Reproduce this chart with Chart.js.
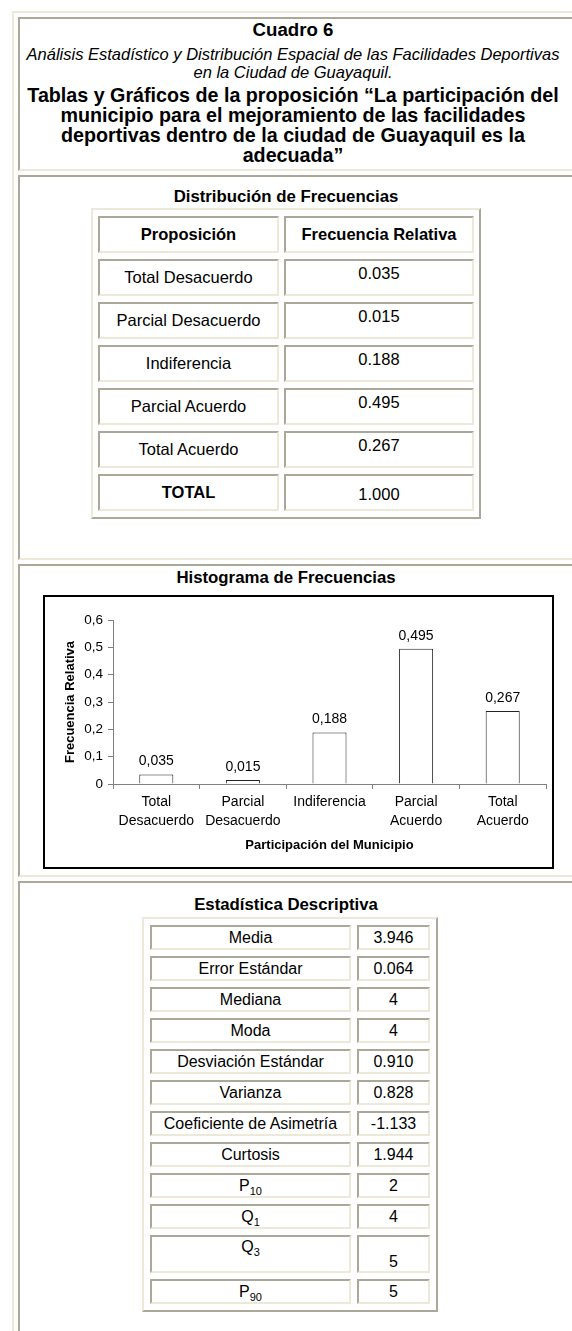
<!DOCTYPE html>
<html lang="es">
<head>
<meta charset="utf-8">
<title>Cuadro 6</title>
<script src="https://cdn.jsdelivr.net/npm/chart.js@4.4.1/dist/chart.umd.min.js"></script>
<style>
html, body { margin: 0; padding: 0; background: #fff; overflow: hidden; width: 572px; height: 1331px; }
body { font-family: "Liberation Sans", Arial, sans-serif; color: #000; position: relative; }
#marco { position: absolute; left: 12px; top: 11px; border-collapse: separate; border-spacing: 4px;
  border: 2px solid; border-color: #ECE9D8 #ACA899 #ACA899 #ECE9D8; }
#marco > tbody > tr > td { width: 558px; padding: 0; vertical-align: top;
  border: 2px solid; border-color: #ACA899 #ECE9D8 #ECE9D8 #ACA899; }
.sec { display: flow-root; overflow: hidden; width: 558px; }
.caja { width: 532px; text-align: center; }
.sec1 .caja { width: 546px; white-space: nowrap; }
.sec1 { height: 150px; }
.sec2 { height: 381px; }
.sec3 { height: 309px; }
.sec4 { height: 480px; }
.cuadro { font-weight: bold; font-size: 18.67px; line-height: 21px; }
.sub { font-style: italic; font-size: 16.5px; line-height: 18px; margin-top: 5px; }
.tit { font-weight: bold; font-size: 19.7px; line-height: 20px; margin-top: 4px; }
.enc { font-weight: bold; font-size: 16.8px; line-height: 22px; }
.tabla { margin: 0 auto; table-layout: fixed; border-collapse: separate;
  border: 2px solid; border-color: #ECE9D8 #ACA899 #ACA899 #ECE9D8; font-size: 16.5px; }
.tabla td { padding: 0; text-align: center; vertical-align: middle; line-height: 19px;
  border: 2px solid; border-color: #ACA899 #ECE9D8 #ECE9D8 #ACA899; box-sizing: border-box; }
#dist { width: 390px; border-spacing: 5px 6px; }
#dist tr { height: 37px; }
#dist td.c1 { width: 181px; }
#dist td.val { padding-bottom: 8px; }
#dist td.tot { padding-top: 4px; }
#desc { width: 296px; border-spacing: 6px; margin-top: 1px; font-size: 16px; position: relative; left: 4px; }
#desc tr { height: 25px; }
#desc td.c1 { width: 201px; }
#desc tr.alto { height: 38px; }
#desc tr.alto td.c1 { vertical-align: top; }
#desc tr.alto td.c2 { vertical-align: bottom; }
sub { font-size: 11px; line-height: 0; vertical-align: -4px; }
#marcoGrafico { width: 507px; height: 270px; border: 2px solid #000; margin: 6px 0 0 23px; position: relative; }
</style>
</head>
<body>
<table id="marco">
  <tr><td><div class="sec sec1"><div class="caja">
    <div class="cuadro">Cuadro 6</div>
    <div class="sub">Análisis Estadístico y Distribución Espacial de las Facilidades Deportivas<br>en la Ciudad de Guayaquil.</div>
    <div class="tit">Tablas y Gráficos de la proposición “La participación del<br>municipio para el mejoramiento de las facilidades<br>deportivas dentro de la ciudad de Guayaquil es la<br>adecuada”</div>
  </div></div></td></tr>
  <tr><td><div class="sec sec2"><div class="caja">
    <div class="enc" style="margin-top:9px">Distribución de Frecuencias</div>
    <table class="tabla" id="dist"></table>
  </div></div></td></tr>
  <tr><td><div class="sec sec3"><div class="caja">
    <div class="enc" style="margin-top:1px">Histograma de Frecuencias</div>
    <div id="marcoGrafico"><canvas id="histograma"></canvas></div>
  </div></div></td></tr>
  <tr><td><div class="sec sec4"><div class="caja">
    <div class="enc" style="margin-top:11px">Estadística Descriptiva</div>
    <table class="tabla" id="desc"></table>
  </div></div></td></tr>
</table>
<script>
// Datos del cuadro
const proposiciones = ['Total Desacuerdo', 'Parcial Desacuerdo', 'Indiferencia', 'Parcial Acuerdo', 'Total Acuerdo'];
const frecuencias = [0.035, 0.015, 0.188, 0.495, 0.267];
const totalFrecuencia = 1.000;
const categorias = [['Total', 'Desacuerdo'], ['Parcial', 'Desacuerdo'], 'Indiferencia', ['Parcial', 'Acuerdo'], ['Total', 'Acuerdo']];
const yMin = 0, yMax = 0.6, yPaso = 0.1;
const estadisticos = ['Media', 'Error Estándar', 'Mediana', 'Moda', 'Desviación Estándar', 'Varianza',
  'Coeficiente de Asimetría', 'Curtosis', 'P', 'Q', 'Q', 'P'];
const subindices = ['', '', '', '', '', '', '', '', '10', '1', '3', '90'];
const valoresEst = ['3.946', '0.064', '4', '4', '0.910', '0.828', '-1.133', '1.944', '2', '4', '5', '5'];

// Tabla de distribucion de frecuencias
let html = '<tr><td class="c1"><b>Proposición</b></td><td><b>Frecuencia Relativa</b></td></tr>';
proposiciones.forEach((p, i) => {
  html += '<tr><td class="c1">' + p + '</td><td class="val">' + frecuencias[i].toFixed(3) + '</td></tr>';
});
html += '<tr><td class="c1"><b>TOTAL</b></td><td class="tot">' + totalFrecuencia.toFixed(3) + '</td></tr>';
document.getElementById('dist').innerHTML = html;

// Tabla de estadistica descriptiva
html = '';
estadisticos.forEach((e, i) => {
  const sub = subindices[i] ? '<sub>' + subindices[i] + '</sub>' : '';
  const alto = (e === 'Q' && subindices[i] === '3') ? ' class="alto"' : '';
  html += '<tr' + alto + '><td class="c1">' + e + sub + '</td><td class="c2">' + valoresEst[i] + '</td></tr>';
});
document.getElementById('desc').innerHTML = html;

// Etiquetas de valor sobre cada barra
const etiquetas = {
  id: 'etiquetas',
  afterDatasetsDraw(chart) {
    const ctx = chart.ctx;
    const meta = chart.getDatasetMeta(0);
    ctx.save();
    ctx.font = '14px "Liberation Sans", Arial, sans-serif';
    ctx.fillStyle = '#000';
    ctx.textAlign = 'center';
    ctx.textBaseline = 'middle';
    meta.data.forEach((bar, i) => {
      ctx.fillText(frecuencias[i].toFixed(3).replace('.', ','), bar.x, bar.y - 13);
    });
    ctx.restore();
  }
};

Chart.defaults.font.family = '"Liberation Sans", Arial, sans-serif';
Chart.defaults.color = '#000';

const ctx = document.getElementById('histograma').getContext('2d');
const histograma = new Chart(ctx, {
  type: 'bar',
  data: {
    labels: categorias,
    datasets: [{
      data: frecuencias,
      backgroundColor: '#fff',
      borderColor: '#222',
      borderWidth: 1,
      barPercentage: 0.393,
      categoryPercentage: 1,
    }]
  },
  options: {
    responsive: true,
    maintainAspectRatio: false,
    animation: false,
    layout: { padding: { top: 23, right: 6, left: 0, bottom: 0 } },
    plugins: { legend: { display: false }, tooltip: { enabled: false } },
    scales: {
      x: {
        afterFit: (scale) => { scale.height = 83; },
        grid: { display: true, drawOnChartArea: false, drawTicks: true, tickLength: 5, color: '#808080' },
        border: { display: true, color: '#808080', width: 1 },
        ticks: { font: { size: 14, lineHeight: 1.35 }, padding: 4, maxRotation: 0, autoSkip: false, color: '#000' },
        title: { display: true, text: 'Participación del Municipio', font: { size: 13, weight: 'bold', lineHeight: 1.2 },
          padding: { top: 0, bottom: 14 }, color: '#000' },
      },
      y: {
        min: yMin,
        max: yMax,
        afterFit: (scale) => { scale.width = 68; },
        grid: { display: true, drawOnChartArea: false, drawTicks: true, tickLength: 5, color: '#808080' },
        border: { display: true, color: '#808080', width: 1 },
        ticks: {
          stepSize: yPaso, padding: 5, font: { size: 13.5 }, color: '#000',
          callback: (v) => v === 0 ? '0' : v.toFixed(1).replace('.', ','),
        },
        title: { display: true, text: 'Frecuencia Relativa', font: { size: 13, weight: 'bold', lineHeight: 1.2 },
          padding: { top: 18, bottom: 0 }, color: '#000' },
      },
    },
  },
  plugins: [etiquetas],
});
</script>
</body>
</html>
